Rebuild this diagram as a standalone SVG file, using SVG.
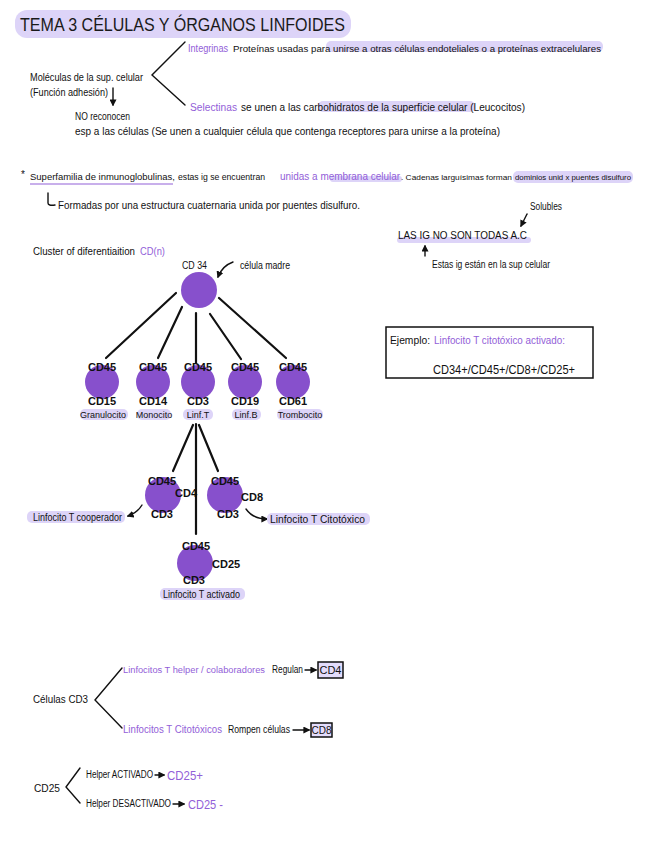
<svg xmlns="http://www.w3.org/2000/svg" width="646" height="848" viewBox="0 0 646 848">
<defs>
<style>
text{font-family:"Liberation Sans","DejaVu Sans",sans-serif;font-size:10px;fill:#111}
.p{fill:#9260d8}
.t{font-size:19px;fill:#1a1a1a}
.cd{font-size:11px;font-weight:bold;text-anchor:middle}
.cdl{font-size:11px;font-weight:bold}
.nm{font-size:9px;text-anchor:middle}
.hl{fill:#ddd4f8}
.ln{stroke:#111;stroke-width:2.2;fill:none;stroke-linecap:round}
.th{stroke:#111;stroke-width:1.4;fill:none;stroke-linecap:round}
.node{fill:#8750cc}
.box{fill:#e3dcfb;stroke:#111;stroke-width:1.5}
</style>
<marker id="ah" viewBox="0 0 10 10" refX="8" refY="5" markerWidth="5" markerHeight="5" orient="auto-start-reverse">
<path d="M0,0 L10,5 L0,10 z" fill="#111"/>
</marker>
</defs>
<rect width="646" height="848" fill="#fff"/>

<g id="title">
<rect class="hl" x="15" y="10" width="336" height="28" rx="12"/>
<text class="t" x="20" y="31" textLength="325" lengthAdjust="spacingAndGlyphs">TEMA 3 CÉLULAS Y ÓRGANOS LINFOIDES</text>
</g>

<g id="moleculas">
<text x="30" y="81" textLength="113" lengthAdjust="spacingAndGlyphs">Moléculas de la sup. celular</text>
<text x="30" y="96" textLength="78" lengthAdjust="spacingAndGlyphs">(Función adhesión)</text>
<text x="75" y="120" textLength="55" lengthAdjust="spacingAndGlyphs">NO reconocen</text>
<text x="75" y="135" textLength="425" lengthAdjust="spacingAndGlyphs">esp a las células (Se unen a cualquier célula que contenga receptores para unirse a la proteína)</text>
</g>
<g id="integrinas">
<rect class="hl" x="326" y="41" width="277" height="11" rx="5"/>
<text class="p" x="188" y="52" textLength="40" lengthAdjust="spacingAndGlyphs">Integrinas</text>
<text x="233" y="52" style="font-size:9px" textLength="368" lengthAdjust="spacingAndGlyphs">Proteínas usadas para unirse a otras células endoteliales o a proteínas extracelulares</text>
</g>
<g id="selectinas">
<rect class="hl" x="318" y="101" width="157" height="11" rx="5"/>
<text class="p" x="190" y="111" textLength="47" lengthAdjust="spacingAndGlyphs">Selectinas</text>
<text x="241" y="111" textLength="284" lengthAdjust="spacingAndGlyphs">se unen a las carbohidratos de la superficie celular (Leucocitos)</text>
</g>

<g id="superfamilia">
<rect class="hl" x="330" y="176" width="72" height="6" rx="3"/>
<rect class="hl" x="513" y="171" width="120" height="12" rx="5"/>
<text x="21" y="178">*</text>
<text x="30" y="180" style="font-size:9px" textLength="145" lengthAdjust="spacingAndGlyphs">Superfamilia de inmunoglobulinas,</text>
<text x="178" y="180" style="font-size:9px" textLength="87" lengthAdjust="spacingAndGlyphs">estas ig se encuentran</text>
<text class="p" x="280" y="180" textLength="120" lengthAdjust="spacingAndGlyphs">unidas a membrana celular</text>
<text x="401" y="180" style="font-size:8px" textLength="111" lengthAdjust="spacingAndGlyphs">. Cadenas larguísimas forman</text>
<text x="515" y="180" style="font-size:7.2px" textLength="116" lengthAdjust="spacingAndGlyphs">dominios unid x puentes disulfuro</text>
<text x="58" y="209" textLength="302" lengthAdjust="spacingAndGlyphs">Formadas por una estructura cuaternaria unida por puentes disulfuro.</text>
</g>

<g id="las-ig">
<rect class="hl" x="397" y="237" width="134" height="6" rx="3"/>
<text x="530" y="210" textLength="32" lengthAdjust="spacingAndGlyphs">Solubles</text>
<text x="398" y="239" textLength="129" lengthAdjust="spacingAndGlyphs">LAS IG NO SON TODAS A.C</text>
<text x="432" y="268" textLength="118" lengthAdjust="spacingAndGlyphs">Estas ig están en la sup celular</text>
</g>

<g id="ejemplo">
<rect x="386" y="327" width="207" height="51" fill="#fff" stroke="#111" stroke-width="1.5"/>
<text x="390" y="344" textLength="40" lengthAdjust="spacingAndGlyphs">Ejemplo:</text>
<text class="p" x="434" y="344" textLength="131" lengthAdjust="spacingAndGlyphs">Linfocito T citotóxico activado:</text>
<text x="433" y="374" style="font-size:12px" textLength="142" lengthAdjust="spacingAndGlyphs">CD34+/CD45+/CD8+/CD25+</text>
</g>

<g id="cluster-label">
<text x="33" y="255" textLength="102" lengthAdjust="spacingAndGlyphs">Cluster of diferentiaition</text>
<text class="p" x="140" y="255" textLength="25" lengthAdjust="spacingAndGlyphs">CD(n)</text>
<text x="240" y="269" textLength="50" lengthAdjust="spacingAndGlyphs">célula madre</text>
</g>

<g id="connectors">
<polyline class="th" points="185,42 152,75 185,105"/>
<line class="th" x1="113" y1="88" x2="113" y2="105" marker-end="url(#ah)"/>
<line x1="30" y1="184" x2="173" y2="184" stroke="#9260d8" stroke-width="1.2"/>
<path class="th" d="M48,193 V203 Q48,206 55,205"/>
<line class="th" x1="527" y1="214" x2="521" y2="226" marker-end="url(#ah)"/>
<line class="th" x1="425" y1="256" x2="425" y2="246" marker-end="url(#ah)"/>
<path class="th" d="M233,262 Q222,266 218,277" marker-end="url(#ah)"/>
<line class="ln" x1="176" y1="293" x2="106" y2="358"/>
<line class="ln" x1="182" y1="307" x2="158" y2="358"/>
<line class="ln" x1="196" y1="313" x2="196" y2="363"/>
<line class="ln" x1="210" y1="314" x2="241" y2="359"/>
<line class="ln" x1="219" y1="298" x2="286" y2="358"/>
<line class="ln" x1="193" y1="425" x2="173" y2="471"/>
<line class="ln" x1="196" y1="424" x2="196" y2="534"/>
<line class="ln" x1="199" y1="425" x2="218" y2="471"/>
<path class="th" d="M142,505 Q137,513 128,516" marker-end="url(#ah)"/>
<path class="th" d="M246,509 Q253,519 267,519" marker-end="url(#ah)"/>
<polyline class="th" points="122,668 95,700 122,728"/>
<line class="th" x1="305" y1="670" x2="316" y2="670" marker-end="url(#ah)"/>
<line class="th" x1="293" y1="730" x2="309" y2="730" marker-end="url(#ah)"/>
<polyline class="th" points="80,768 66,787 80,803"/>
<line class="th" x1="155" y1="775" x2="164" y2="775" marker-end="url(#ah)"/>
<line class="th" x1="173" y1="804" x2="184" y2="804" marker-end="url(#ah)"/>
</g>

<g id="cd34">
<circle class="node" cx="199" cy="290" r="18"/>
<text x="182" y="269" textLength="25" lengthAdjust="spacingAndGlyphs">CD 34</text>
</g>

<g id="granulocito">
<circle class="node" cx="102" cy="382" r="17"/>
<rect class="hl" x="80" y="409" width="48" height="11" rx="5"/>
<text class="cd" x="102" y="371">CD45</text>
<text class="cd" x="102" y="405">CD15</text>
<text class="nm" x="103" y="418">Granulocito</text>
</g>
<g id="monocito">
<circle class="node" cx="153" cy="382" r="17"/>
<rect class="hl" x="137" y="409" width="34" height="11" rx="5"/>
<text class="cd" x="153" y="371">CD45</text>
<text class="cd" x="153" y="405">CD14</text>
<text class="nm" x="154" y="418">Monocito</text>
</g>
<g id="linf-t">
<circle class="node" cx="198" cy="382" r="17"/>
<rect class="hl" x="183" y="409" width="30" height="11" rx="5"/>
<text class="cd" x="198" y="371">CD45</text>
<text class="cd" x="198" y="405">CD3</text>
<text class="nm" x="198" y="418">Linf.T</text>
</g>
<g id="linf-b">
<circle class="node" cx="245" cy="382" r="17"/>
<rect class="hl" x="232" y="409" width="29" height="11" rx="5"/>
<text class="cd" x="245" y="371">CD45</text>
<text class="cd" x="245" y="405">CD19</text>
<text class="nm" x="246" y="418">Linf.B</text>
</g>
<g id="trombocito">
<circle class="node" cx="293" cy="382" r="17"/>
<rect class="hl" x="277" y="409" width="46" height="11" rx="5"/>
<text class="cd" x="293" y="371">CD45</text>
<text class="cd" x="293" y="405">CD61</text>
<text class="nm" x="300" y="418">Trombocito</text>
</g>

<g id="t-cooperador">
<circle class="node" cx="163" cy="495" r="18"/>
<rect class="hl" x="27" y="511" width="98" height="12" rx="5"/>
<text class="cd" x="162" y="485">CD45</text>
<text class="cdl" x="175" y="497">CD4</text>
<text class="cd" x="162" y="518">CD3</text>
<text x="33" y="521" textLength="89" lengthAdjust="spacingAndGlyphs">Linfocito T cooperador</text>
</g>
<g id="t-citotoxico">
<circle class="node" cx="225" cy="495" r="18"/>
<rect class="hl" x="267" y="513" width="103" height="12" rx="5"/>
<text class="cd" x="225" y="485">CD45</text>
<text class="cdl" x="241" y="501">CD8</text>
<text class="cd" x="228" y="518">CD3</text>
<text x="270" y="523" textLength="95" lengthAdjust="spacingAndGlyphs">Linfocito T Citotóxico</text>
</g>
<g id="t-activado">
<circle class="node" cx="195" cy="563" r="18"/>
<rect class="hl" x="160" y="588" width="85" height="12" rx="5"/>
<text class="cd" x="196" y="550">CD45</text>
<text class="cdl" x="212" y="568">CD25</text>
<text class="cd" x="194" y="584">CD3</text>
<text x="163" y="598" textLength="77" lengthAdjust="spacingAndGlyphs">Linfocito T activado</text>
</g>

<g id="celulas-cd3">
<text x="33" y="703" textLength="55" lengthAdjust="spacingAndGlyphs">Células CD3</text>
<text class="p" x="123" y="673" style="font-size:8.5px" textLength="142" lengthAdjust="spacingAndGlyphs">Linfocitos T helper / colaboradores</text>
<text x="272" y="673" textLength="31" lengthAdjust="spacingAndGlyphs">Regulan</text>
<rect class="box" x="318" y="662" width="25" height="16"/>
<text x="330.5" y="674" style="font-size:11px;text-anchor:middle">CD4</text>
<text class="p" x="123" y="733" textLength="99" lengthAdjust="spacingAndGlyphs">Linfocitos T Citotóxicos</text>
<text x="228" y="733" textLength="62" lengthAdjust="spacingAndGlyphs">Rompen células</text>
<rect class="box" x="311" y="723" width="21" height="14"/>
<text x="321.5" y="734" style="font-size:10px;text-anchor:middle">CD8</text>
</g>

<g id="cd25">
<text x="34" y="792" style="font-size:11px" textLength="26" lengthAdjust="spacingAndGlyphs">CD25</text>
<text x="86" y="778" textLength="67" lengthAdjust="spacingAndGlyphs">Helper ACTIVADO</text>
<text class="p" x="167" y="780" style="font-size:13px" textLength="36" lengthAdjust="spacingAndGlyphs">CD25+</text>
<text x="86" y="807" textLength="85" lengthAdjust="spacingAndGlyphs">Helper DESACTIVADO</text>
<text class="p" x="188" y="809" style="font-size:13px" textLength="35" lengthAdjust="spacingAndGlyphs">CD25 -</text>
</g>
</svg>
